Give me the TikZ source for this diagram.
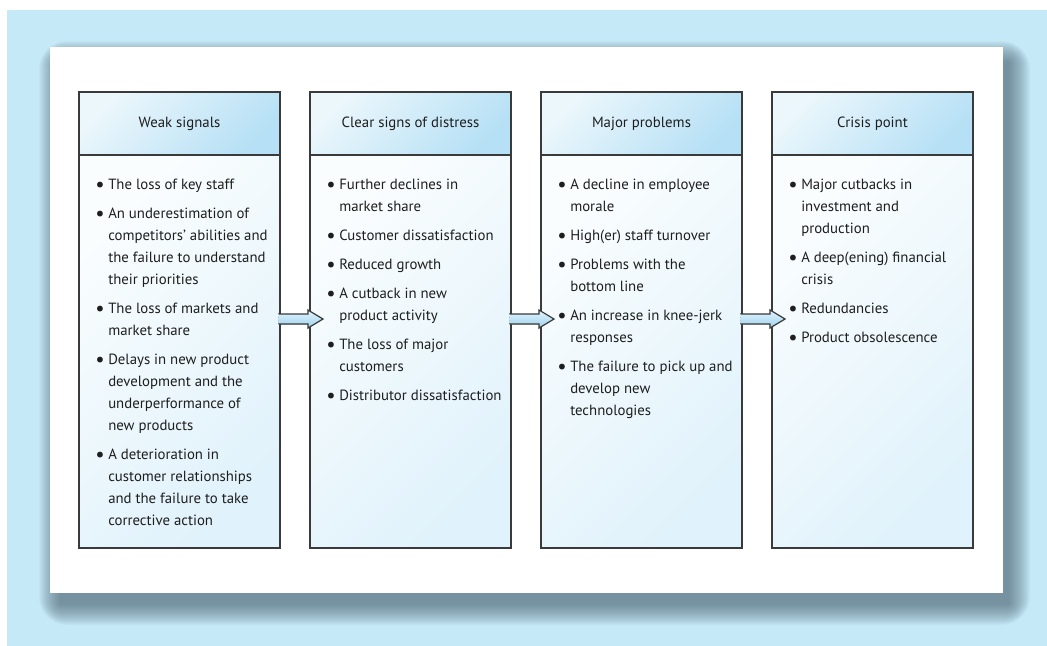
\documentclass[tikz,border=0pt]{standalone}
\usepackage{fontspec}
\setmainfont{PT Sans}
\usetikzlibrary{positioning,calc}
\definecolor{sigBg}{RGB}{198,233,248}
\definecolor{sigShadow}{RGB}{80,105,118}
\definecolor{sigLine}{RGB}{58,58,58}
\definecolor{sigText}{RGB}{30,30,30}
\definecolor{sigHeadA}{RGB}{236,247,252}
\definecolor{sigHeadB}{RGB}{182,224,245}
\definecolor{sigBodyA}{RGB}{250,253,254}
\definecolor{sigBodyB}{RGB}{224,242,251}
\definecolor{sigArrowA}{RGB}{226,243,252}
\definecolor{sigArrowB}{RGB}{158,211,238}
\newcommand{\sigBul}{\makebox[9.75pt][l]{\raisebox{-1.3pt}{\scalebox{1.4}{\textbullet}}}}
\newcommand{\sigInd}{\hspace*{9.75pt}}
\begin{document}
\begin{tikzpicture}[x=0.75pt,y=-0.75pt,
    sigHead/.style={draw=sigLine,line width=0.9pt,outer sep=0pt,inner sep=0pt,
      minimum width=150.75pt,minimum height=47.25pt,anchor=north west,
      top color=sigHeadA,bottom color=sigHeadB,shading angle=45,
      text=sigText,font=\fontsize{11.1}{16.5}\selectfont},
    sigBody/.style={draw=sigLine,line width=0.9pt,outer sep=0pt,inner sep=0pt,
      minimum width=150.75pt,minimum height=294.75pt,
      top color=sigBodyA,bottom color=sigBodyB,shading angle=45},
    sigList/.style={anchor=north west,align=left,inner sep=0pt,text=sigText,
      font=\fontsize{11.1}{16.5}\selectfont},
    sigArrow/.style={top color=sigArrowA,bottom color=sigArrowB},
]
\useasboundingbox (0,0) rectangle (1047,646);
% background and panel
\fill[sigBg] (7,10) rectangle (1047,646);
\foreach \i in {0,...,21}
  \fill[sigShadow,opacity=0.042,rounded corners=\i pt] (60-\i,62-\i) rectangle (1009+\i,604+\i);
\fill[white] (50,47) rectangle (1003,593);
% stages
\node[sigHead] (head1) at (79,92) {Weak signals};
\node[sigHead,right=22.5pt of head1] (head2) {Clear signs of distress};
\node[sigHead,right=22.5pt of head2] (head3) {Major problems};
\node[sigHead,right=22.5pt of head3] (head4) {Crisis point};
\node[sigBody,below=0pt of head1] (body1) {};
\node[sigBody,below=0pt of head2] (body2) {};
\node[sigBody,below=0pt of head3] (body3) {};
\node[sigBody,below=0pt of head4] (body4) {};
% lists
\node[sigList] (list1) at ($(body1.north west)+(16,24)$) {%
  \sigBul The loss of key staff\\[5.25pt]
  \sigBul An underestimation of\\
  \sigInd competitors' abilities and\\
  \sigInd the failure to understand\\
  \sigInd their priorities\\[5.25pt]
  \sigBul The loss of markets and\\
  \sigInd market share\\[5.25pt]
  \sigBul Delays in new product\\
  \sigInd development and the\\
  \sigInd underperformance of\\
  \sigInd new products\\[5.25pt]
  \sigBul A deterioration in\\
  \sigInd customer relationships\\
  \sigInd and the failure to take\\
  \sigInd corrective action};
\node[sigList] (list2) at ($(body2.north west)+(16,24)$) {%
  \sigBul Further declines in\\
  \sigInd market share\\[5.25pt]
  \sigBul Customer dissatisfaction\\[5.25pt]
  \sigBul Reduced growth\\[5.25pt]
  \sigBul A cutback in new\\
  \sigInd product activity\\[5.25pt]
  \sigBul The loss of major\\
  \sigInd customers\\[5.25pt]
  \sigBul Distributor dissatisfaction};
\node[sigList] (list3) at ($(body3.north west)+(16,24)$) {%
  \sigBul A decline in employee\\
  \sigInd morale\\[5.25pt]
  \sigBul High(er) staff turnover\\[5.25pt]
  \sigBul Problems with the\\
  \sigInd bottom line\\[5.25pt]
  \sigBul An increase in knee-jerk\\
  \sigInd responses\\[5.25pt]
  \sigBul The failure to pick up and\\
  \sigInd develop new\\
  \sigInd technologies};
\node[sigList] (list4) at ($(body4.north west)+(16,24)$) {%
  \sigBul Major cutbacks in\\
  \sigInd investment and\\
  \sigInd production\\[5.25pt]
  \sigBul A deep(ening) financial\\
  \sigInd crisis\\[5.25pt]
  \sigBul Redundancies\\[5.25pt]
  \sigBul Product obsolescence};
% arrows between stages
\foreach \a in {1,2,3}{
  \coordinate (arr\a) at ($(body\a.north east)+(-2,159)$);
  \fill[sigArrow] (arr\a) -- ++(30,0) -- ++(0,-4) -- ++(15,9) -- ++(-15,9)
    -- ++(0,-4) -- ++(-30,0) -- cycle;
  \draw[sigLine,line width=0.9pt] (arr\a) -- ++(30,0) -- ++(0,-4) -- ++(15,9)
    -- ++(-15,9) -- ++(0,-4) -- ++(-30,0);
  \draw[gray!50,dotted] (arr\a) -- ++(0,10);
}
\end{tikzpicture}
\end{document}
